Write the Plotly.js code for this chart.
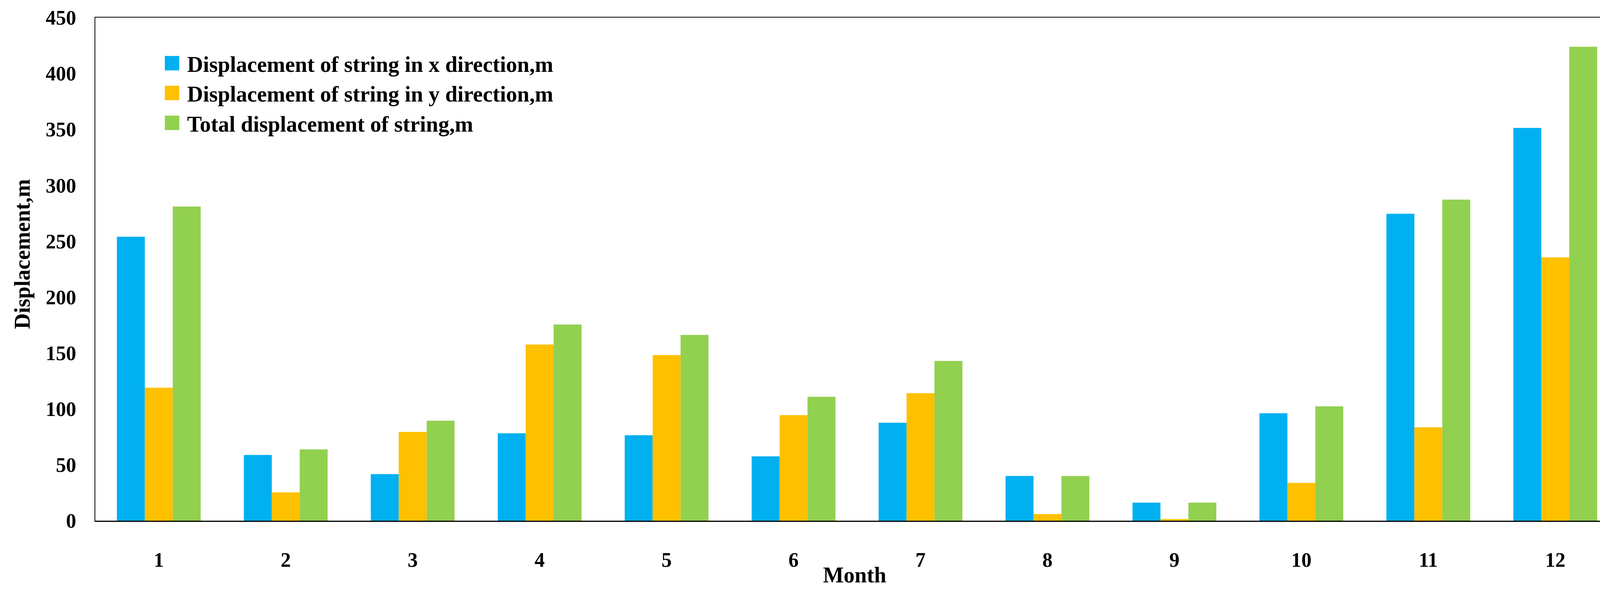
<!DOCTYPE html>
<html>
<head>
<meta charset="utf-8">
<script src="https://cdn.plot.ly/plotly-3.0.1.min.js"></script>
<style>
html,body{margin:0;padding:0;background:#fff;overflow:hidden;}
#chart{width:4176px;height:1513px;}
</style>
</head>
<body>
<div id="chart"></div>
<script>
const months = ['1','2','3','4','5','6','7','8','9','10','11','12'];
const dispX = [254.0, 58.8, 41.7, 78.2, 76.4, 57.6, 87.6, 40.0, 16.2, 96.1, 274.5, 351.3];
const dispY = [119.0, 25.3, 79.4, 157.6, 148.1, 94.4, 114.1, 5.9, 1.5, 33.8, 83.5, 235.5];
const dispTotal = [281.0, 63.8, 89.4, 175.5, 166.1, 110.8, 142.9, 40.0, 16.2, 102.3, 287.2, 423.9];
const seriesNames = ['Displacement of string in x direction,m', 'Displacement of string in y direction,m', 'Total displacement of string,m'];
const yTicks = [0, 50, 100, 150, 200, 250, 300, 350, 400, 450];
const xTitle = 'Month';
const yTitle = 'Displacement,m';

const FONT = 'Liberation Serif, Times New Roman, serif';
const colors = ['#00B0F0', '#FFC000', '#92D050'];
const series = [dispX, dispY, dispTotal];

const traces = series.map((vals, i) => ({
  type: 'bar',
  x: months,
  y: vals,
  name: seriesNames[i],
  marker: {color: colors[i], line: {width: 0}},
  hoverinfo: 'x+y+name'
}));

const layout = {
  width: 4176,
  height: 1513,
  paper_bgcolor: '#ffffff',
  plot_bgcolor: '#ffffff',
  margin: {l: 244, r: 32, t: 45, b: 180, pad: 0},
  barmode: 'group',
  bargap: 0.34,
  bargroupgap: 0,
  font: {family: FONT, color: '#000', size: 52},
  showlegend: true,
  legend: {
    x: 0.0405, y: 0.943, xanchor: 'left', yanchor: 'top',
    bgcolor: 'rgba(0,0,0,0)', borderwidth: 0,
    font: {family: FONT, size: 56.5, color: '#000', weight: 'bold'},
    itemwidth: 67,
    traceorder: 'normal'
  },
  xaxis: {
    type: 'category',
    range: [-0.5, 11.5],
    showline: true, linecolor: '#000', linewidth: 2.5, mirror: true,
    showgrid: false, zeroline: false,
    ticks: '',
    ticklabelstandoff: 53,
    tickfont: {family: FONT, size: 52, color: '#000', weight: 'bold'},
    automargin: false,
    fixedrange: true
  },
  yaxis: {
    range: [0, 450],
    tickvals: yTicks,
    ticktext: yTicks.map(String),
    showline: true, linecolor: '#000', linewidth: 2.5, mirror: true,
    showgrid: false, zeroline: false,
    ticks: '',
    ticklabelstandoff: 36,
    tickfont: {family: FONT, size: 52, color: '#000', weight: 'bold'},
    automargin: false,
    fixedrange: true
  },
  annotations: [
    {
      text: xTitle, xref: 'paper', yref: 'paper',
      x: 0.4985, y: -0.1079, xanchor: 'center', yanchor: 'middle',
      showarrow: false,
      font: {family: FONT, size: 56, color: '#000', weight: 'bold'}
    },
    {
      text: yTitle, xref: 'paper', yref: 'paper',
      x: -0.0479, y: 0.530, xanchor: 'center', yanchor: 'middle',
      textangle: -90, showarrow: false,
      font: {family: FONT, size: 56, color: '#000', weight: 'bold'}
    }
  ]
};

Plotly.newPlot('chart', traces, layout, {displayModeBar: false, staticPlot: true}).then(gd => {
  gd.querySelectorAll('.legend .legendpoints path').forEach(p => {
    p.setAttribute('d', 'M18.5,18.5H-18.5V-18.5H18.5Z');
  });
});
</script>
</body>
</html>
